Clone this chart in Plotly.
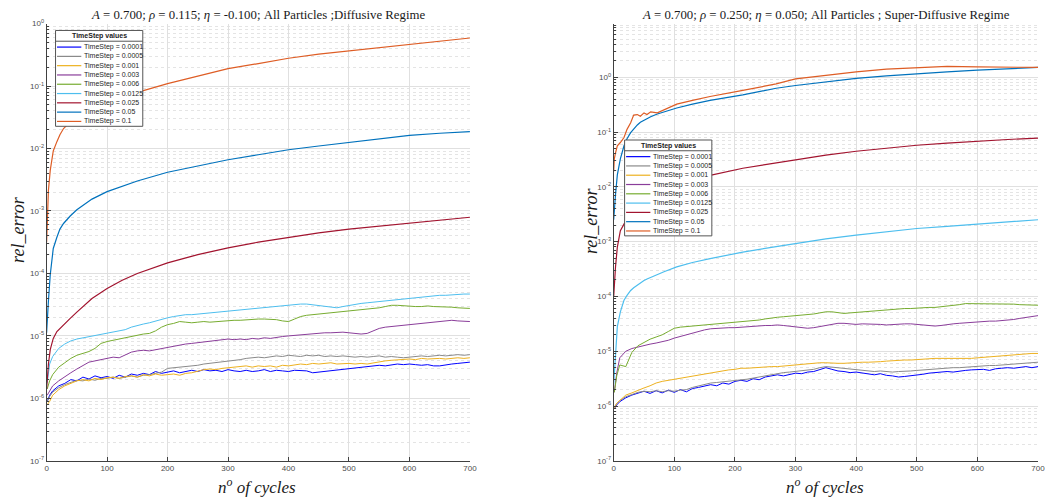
import numpy as np
import plotly.graph_objects as go

W, H = 1046, 503

# ---------------------------------------------------------------- data
timesteps = ["0.0001", "0.0005", "0.001", "0.003", "0.006",
             "0.0125", "0.025", "0.05", "0.1"]
colors = ["#0000FF", "#8A8A8A", "#EDB120", "#8A3D9A", "#77AC30",
          "#4DBEEE", "#A2142F", "#0072BD", "#DE5D25"]

# sampling of the noisy (small time step) runs
cycles_noisy = [1, 5] + list(range(10, 701, 10))
# sampling of the smooth (large time step) runs
cycles_smooth_left = [0, 1, 3, 6, 11, 17, 22, 28, 39, 50, 75, 100, 125, 150,
                      200, 250, 300, 350, 400, 450, 500, 550, 600, 650, 700]
cycles_smooth_right = [0, 1, 3, 6, 11, 17, 22, 28, 33, 39, 44, 50, 55, 61, 72,
                       83, 104, 130, 159, 213, 268, 300, 350, 400, 450, 500,
                       550, 600, 650, 700]

# log10(rel_error) -- Diffusive regime (A=0.700, rho=0.115, eta=-0.100)
left_ts_0001 = [
    -6.05, -5.95, -5.88, -5.80, -5.76, -5.70, -5.72, -5.66, -5.69, -5.64,
    -5.67, -5.65, -5.68, -5.63, -5.66, -5.61, -5.63, -5.60, -5.62, -5.57,
    -5.60, -5.58, -5.56, -5.59, -5.57, -5.55, -5.57, -5.54, -5.56, -5.55,
    -5.57, -5.54, -5.56, -5.57, -5.55, -5.57, -5.56, -5.54, -5.57, -5.55,
    -5.56, -5.57, -5.55, -5.56, -5.56, -5.59, -5.58, -5.56, -5.55, -5.54,
    -5.53, -5.52, -5.52, -5.50, -5.49, -5.48, -5.47, -5.48, -5.46, -5.45,
    -5.46, -5.45, -5.46, -5.47, -5.46, -5.48, -5.48, -5.46, -5.45, -5.44,
    -5.43, -5.42]
left_ts_0005 = [
    -6.05, -5.97, -5.90, -5.83, -5.78, -5.74, -5.71, -5.72, -5.69, -5.71,
    -5.68, -5.68, -5.66, -5.68, -5.66, -5.64, -5.66, -5.63, -5.62, -5.60,
    -5.58, -5.52, -5.51, -5.50, -5.50, -5.48, -5.47, -5.45, -5.44, -5.43,
    -5.42, -5.40, -5.39, -5.38, -5.36, -5.35, -5.34, -5.35, -5.33, -5.32,
    -5.33, -5.31, -5.32, -5.33, -5.31, -5.32, -5.31, -5.33, -5.32, -5.33,
    -5.32, -5.33, -5.34, -5.33, -5.34, -5.33, -5.32, -5.34, -5.33, -5.34,
    -5.35, -5.34, -5.33, -5.32, -5.33, -5.32, -5.31, -5.32, -5.31, -5.30,
    -5.31, -5.30]
left_ts_001 = [
    -6.10, -6.05, -5.95, -5.86, -5.80, -5.76, -5.72, -5.70, -5.72, -5.68,
    -5.70, -5.67, -5.66, -5.68, -5.65, -5.64, -5.66, -5.62, -5.64, -5.61,
    -5.63, -5.62, -5.61, -5.63, -5.60, -5.59, -5.56, -5.54, -5.53, -5.54,
    -5.52, -5.51, -5.50, -5.49, -5.48, -5.50, -5.48, -5.49, -5.48, -5.50,
    -5.47, -5.48, -5.46, -5.45, -5.46, -5.44, -5.45, -5.44, -5.43, -5.45,
    -5.44, -5.44, -5.45, -5.44, -5.45, -5.43, -5.42, -5.40, -5.39, -5.38,
    -5.37, -5.37, -5.38, -5.36, -5.37, -5.36, -5.36, -5.37, -5.36, -5.35,
    -5.36, -5.35]
left_ts_003 = [
    -5.95, -5.88, -5.80, -5.72, -5.65, -5.59, -5.53, -5.47, -5.42, -5.40,
    -5.38, -5.36, -5.34, -5.35, -5.30, -5.26, -5.24, -5.23, -5.24, -5.22,
    -5.20, -5.18, -5.16, -5.15, -5.13, -5.12, -5.11, -5.10, -5.09, -5.07,
    -5.06, -5.05, -5.06, -5.05, -5.06, -5.04, -5.05, -5.03, -5.04, -5.02,
    -5.01, -5.00, -4.99, -4.98, -4.98, -4.97, -4.96, -4.95, -4.95, -4.94,
    -4.94, -4.95, -4.96, -4.97, -4.96, -4.92, -4.88, -4.86, -4.85, -4.84,
    -4.83, -4.82, -4.81, -4.80, -4.79, -4.77, -4.76, -4.76, -4.75, -4.76,
    -4.76, -4.77]
left_ts_006 = [
    -5.85, -5.72, -5.62, -5.50, -5.43, -5.36, -5.31, -5.28, -5.25, -5.20,
    -5.12, -5.09, -5.07, -5.05, -5.03, -5.00, -4.98, -4.97, -4.96, -4.92,
    -4.86, -4.82, -4.80, -4.77, -4.78, -4.79, -4.78, -4.77, -4.78, -4.77,
    -4.76, -4.76, -4.75, -4.75, -4.74, -4.74, -4.73, -4.73, -4.73, -4.74,
    -4.76, -4.77, -4.73, -4.69, -4.67, -4.66, -4.65, -4.64, -4.63, -4.62,
    -4.61, -4.61, -4.60, -4.59, -4.58, -4.57, -4.55, -4.53, -4.51, -4.51,
    -4.52, -4.53, -4.53, -4.53, -4.52, -4.53, -4.53, -4.54, -4.54, -4.55,
    -4.55, -4.56]
left_ts_0125 = [
    -5.75, -5.45, -5.33, -5.20, -5.13, -5.08, -5.05, -5.03, -5.01, -4.99,
    -4.97, -4.96, -4.94, -4.92, -4.90, -4.86, -4.83, -4.81, -4.79, -4.76,
    -4.73, -4.71, -4.69, -4.67, -4.66, -4.66, -4.65, -4.64, -4.63, -4.62,
    -4.62, -4.61, -4.60, -4.58, -4.57, -4.56, -4.56, -4.54, -4.53, -4.52,
    -4.51, -4.50, -4.49, -4.49, -4.49, -4.50, -4.52, -4.53, -4.54, -4.55,
    -4.53, -4.51, -4.49, -4.48, -4.47, -4.46, -4.45, -4.44, -4.42, -4.41,
    -4.40, -4.40, -4.39, -4.37, -4.36, -4.36, -4.35, -4.35, -4.34, -4.33,
    -4.33, -4.33]
left_ts_025 = [-5.85, -5.70, -5.45, -5.22, -5.04, -4.93, -4.88, -4.82, -4.72,
               -4.62, -4.40, -4.24, -4.11, -4.00, -3.83, -3.70, -3.59, -3.50,
               -3.42, -3.35, -3.29, -3.24, -3.19, -3.145, -3.10]
left_ts_05 = [-4.95, -4.70, -4.44, -4.02, -3.60, -3.42, -3.29, -3.20, -3.08,
              -2.98, -2.81, -2.69, -2.60, -2.52, -2.38, -2.28, -2.18, -2.10,
              -2.02, -1.96, -1.90, -1.84, -1.79, -1.755, -1.73]
left_ts_1 = [-3.50, -3.08, -2.67, -2.35, -2.04, -1.89, -1.78, -1.68, -1.57,
             -1.47, -1.34, -1.24, -1.16, -1.10, -0.96, -0.84, -0.72, -0.64,
             -0.555, -0.49, -0.44, -0.38, -0.33, -0.28, -0.23]

# log10(rel_error) -- Super-diffusive regime (A=0.700, rho=0.250, eta=0.050)
right_ts_0001 = [
    -6.05, -5.98, -5.92, -5.85, -5.80, -5.76, -5.73, -5.77, -5.72, -5.76,
    -5.71, -5.75, -5.70, -5.74, -5.68, -5.66, -5.63, -5.61, -5.63, -5.58,
    -5.60, -5.55, -5.53, -5.55, -5.50, -5.52, -5.47, -5.45, -5.43, -5.45,
    -5.42, -5.40, -5.41, -5.38, -5.37, -5.33, -5.30, -5.33, -5.36, -5.37,
    -5.39, -5.38, -5.40, -5.42, -5.43, -5.41, -5.44, -5.45, -5.47, -5.46,
    -5.45, -5.43, -5.42, -5.40, -5.39, -5.38, -5.37, -5.38, -5.36, -5.35,
    -5.34, -5.34, -5.33, -5.35, -5.32, -5.31, -5.30, -5.31, -5.29, -5.28,
    -5.30, -5.28]
right_ts_0005 = [
    -6.02, -5.95, -5.90, -5.83, -5.79, -5.75, -5.73, -5.74, -5.72, -5.74,
    -5.72, -5.73, -5.71, -5.70, -5.66, -5.63, -5.60, -5.58, -5.57, -5.56,
    -5.55, -5.53, -5.52, -5.51, -5.49, -5.47, -5.44, -5.42, -5.40, -5.39,
    -5.38, -5.37, -5.36, -5.34, -5.33, -5.30, -5.28, -5.29, -5.30, -5.31,
    -5.32, -5.33, -5.34, -5.35, -5.37, -5.36, -5.37, -5.38, -5.37, -5.37,
    -5.36, -5.35, -5.34, -5.33, -5.32, -5.31, -5.31, -5.30, -5.30, -5.29,
    -5.28, -5.28, -5.27, -5.26, -5.26, -5.25, -5.24, -5.24, -5.23, -5.22,
    -5.21, -5.20]
right_ts_001 = [
    -6.05, -5.95, -5.90, -5.80, -5.76, -5.71, -5.67, -5.63, -5.58, -5.55,
    -5.53, -5.52, -5.50, -5.47, -5.45, -5.43, -5.41, -5.40, -5.38, -5.36,
    -5.34, -5.33, -5.31, -5.31, -5.30, -5.29, -5.29, -5.28, -5.28, -5.27,
    -5.25, -5.24, -5.23, -5.22, -5.22, -5.21, -5.21, -5.22, -5.22, -5.22,
    -5.21, -5.21, -5.20, -5.20, -5.20, -5.19, -5.18, -5.17, -5.17, -5.16,
    -5.16, -5.15, -5.14, -5.14, -5.13, -5.13, -5.13, -5.13, -5.13, -5.14,
    -5.13, -5.12, -5.11, -5.10, -5.09, -5.08, -5.08, -5.07, -5.06, -5.05,
    -5.04, -5.04]
right_ts_003 = [
    -5.75, -5.40, -5.12, -5.00, -4.95, -4.92, -4.89, -4.87, -4.85, -4.83,
    -4.80, -4.76, -4.73, -4.69, -4.66, -4.63, -4.61, -4.59, -4.58, -4.58,
    -4.57, -4.57, -4.56, -4.56, -4.55, -4.54, -4.53, -4.53, -4.52, -4.53,
    -4.54, -4.55, -4.57, -4.58, -4.57, -4.55, -4.53, -4.51, -4.49, -4.49,
    -4.50, -4.51, -4.50, -4.50, -4.50, -4.51, -4.52, -4.51, -4.50, -4.50,
    -4.50, -4.51, -4.52, -4.53, -4.54, -4.53, -4.51, -4.50, -4.49, -4.48,
    -4.47, -4.47, -4.46, -4.45, -4.45, -4.44, -4.44, -4.42, -4.40, -4.38,
    -4.36, -4.35]
right_ts_006 = [
    -5.75, -5.45, -5.25, -5.28, -5.02, -4.90, -4.84, -4.78, -4.74, -4.70,
    -4.64, -4.58, -4.56, -4.55, -4.54, -4.53, -4.52, -4.51, -4.50, -4.50,
    -4.49, -4.48, -4.47, -4.46, -4.45, -4.43, -4.41, -4.39, -4.38, -4.37,
    -4.36, -4.35, -4.35, -4.34, -4.32, -4.30, -4.28, -4.28, -4.30, -4.31,
    -4.30, -4.29, -4.28, -4.27, -4.26, -4.25, -4.25, -4.24, -4.23, -4.22,
    -4.22, -4.21, -4.21, -4.20, -4.20, -4.19, -4.18, -4.17, -4.15, -4.13,
    -4.13, -4.13, -4.13, -4.14, -4.13, -4.13, -4.14, -4.14, -4.15, -4.15,
    -4.16, -4.16]
right_ts_0125 = [-5.60, -5.40, -5.05, -4.55, -4.28, -4.07, -3.98, -3.89, -3.84,
                 -3.79, -3.75, -3.71, -3.68, -3.65, -3.60, -3.55, -3.46, -3.38,
                 -3.31, -3.19, -3.09, -3.03, -2.95, -2.88, -2.82, -2.76, -2.72,
                 -2.68, -2.64, -2.60]
right_ts_025 = [-4.00, -3.75, -3.46, -3.10, -2.80, -2.68, -2.58, -2.50, -2.45,
                -2.40, -2.35, -2.30, -2.27, -2.23, -2.17, -2.11, -2.01, -1.90,
                -1.79, -1.66, -1.56, -1.50, -1.42, -1.35, -1.29, -1.24, -1.20,
                -1.165, -1.135, -1.11]
right_ts_05 = [-2.60, -2.40, -2.14, -1.78, -1.49, -1.25, -1.12, -1.01, -0.94,
               -0.87, -0.82, -0.78, -0.75, -0.72, -0.67, -0.63, -0.56, -0.49,
               -0.42, -0.32, -0.20, -0.15, -0.08, -0.02, 0.025, 0.065, 0.10,
               0.13, 0.155, 0.18]
right_ts_1 = [-1.72, -1.49, -1.38, -1.25, -1.19, -1.10, -0.95, -0.83, -0.69,
              -0.68, -0.71, -0.65, -0.68, -0.63, -0.65, -0.59, -0.49, -0.42,
              -0.35, -0.24, -0.12, -0.03, 0.04, 0.10, 0.15, 0.18, 0.20, 0.19,
              0.18, 0.18]

left_series = [left_ts_0001, left_ts_0005, left_ts_001, left_ts_003,
               left_ts_006, left_ts_0125, left_ts_025, left_ts_05, left_ts_1]
right_series = [right_ts_0001, right_ts_0005, right_ts_001, right_ts_003,
                right_ts_006, right_ts_0125, right_ts_025, right_ts_05,
                right_ts_1]
# which cycle sampling each run uses
left_cycles = [cycles_noisy] * 6 + [cycles_smooth_left] * 3
right_cycles = [cycles_noisy] * 5 + [cycles_smooth_right] * 4

left_title = ("<i>A</i> = 0.700; <i>ρ</i> = 0.115; <i>η</i> = -0.100; "
              "All Particles ;Diffusive Regime")
right_title = ("<i>A</i> = 0.700; <i>ρ</i> = 0.250; <i>η</i> = 0.050; "
               "All Particles ; Super-Diffusive Regime")

# ---------------------------------------------------------------- styling
SERIF = "Liberation Serif, Times New Roman, serif"
SANS = "Liberation Sans, Arial, sans-serif"
AXIS_COL = "#404040"
TICK_COL = "#4d4d4d"
GRID_COL = "#e0e0e0"
MINOR_COL = "#e4e4e4"


def fx(p):
    return p / W


def fy(p):
    return 1 - p / H


fig = go.Figure()

panels = [
    dict(xa="x", ya="y", series=left_series, cycles=left_cycles),
    dict(xa="x2", ya="y2", series=right_series, cycles=right_cycles),
]
for pan in panels:
    for i, logs in enumerate(pan["series"]):
        xs = pan["cycles"][i]
        noisy = xs is cycles_noisy
        fig.add_trace(go.Scatter(
            x=xs, y=np.power(10.0, np.array(logs)),
            mode="lines", xaxis=pan["xa"], yaxis=pan["ya"],
            line=dict(color=colors[i], width=1.0 if noisy else 1.2),
            name="TimeStep = " + timesteps[i], showlegend=False,
            hoverinfo="skip"))


def yticks(top_exp):
    vals = [10.0 ** e for e in range(-7, top_exp + 1)]
    text = ["10<sup>%d</sup>" % e for e in range(-7, top_exp + 1)]
    return vals, text


minor_vals = [m * 10.0 ** e for e in range(-7, 1) for m in range(2, 10)]


def xaxis_style(x0, x1, anchor):
    return dict(
        domain=[fx(x0), fx(x1)], anchor=anchor, range=[0, 700],
        tickvals=list(range(0, 701, 100)), showgrid=True, gridcolor=GRID_COL,
        gridwidth=1, zeroline=False, showline=True, linecolor=AXIS_COL,
        linewidth=1, ticks="inside", ticklen=4, tickcolor=AXIS_COL,
        tickfont=dict(family=SANS, size=8, color=TICK_COL))


def yaxis_style(top, anchor):
    vals, text = yticks(int(np.floor(top)))
    return dict(
        type="log", domain=[fy(465), fy(18)], anchor=anchor,
        range=[-7, top], tickvals=vals, ticktext=text,
        showgrid=True, gridcolor=GRID_COL, gridwidth=1, zeroline=False,
        showline=True, linecolor=AXIS_COL, linewidth=1, ticks="inside",
        ticklen=4, tickcolor=AXIS_COL,
        tickfont=dict(family=SANS, size=8, color=TICK_COL),
        minor=dict(tickvals=[v for v in minor_vals if np.log10(v) < top],
                   showgrid=True, gridcolor=MINOR_COL,
                   griddash="dot", gridwidth=1, ticks="inside", ticklen=2,
                   tickcolor=AXIS_COL))


annotations = []
shapes = []


def add_text(x, y, text, size, family=SERIF, color="#1a1a1a", angle=0,
             xanchor="center"):
    annotations.append(dict(
        x=fx(x), y=fy(y), xref="paper", yref="paper", text=text,
        showarrow=False, font=dict(family=family, size=size, color=color),
        textangle=angle, xanchor=xanchor, yanchor="middle"))


def add_legend(x0, y0):
    w, h = 88, 98
    shapes.append(dict(type="rect", xref="paper", yref="paper",
                       x0=fx(x0), x1=fx(x0 + w), y0=fy(y0 + h), y1=fy(y0),
                       fillcolor="white", line=dict(color="#555555", width=1),
                       layer="above"))
    shapes.append(dict(type="line", xref="paper", yref="paper",
                       x0=fx(x0), x1=fx(x0 + w), y0=fy(y0 + 11), y1=fy(y0 + 11),
                       line=dict(color="#555555", width=1), layer="above"))
    add_text(x0 + w / 2, y0 + 6, "<b>TimeStep values</b>", 7,
             family=SANS, color="#222222")
    for i, ts in enumerate(timesteps):
        yy = y0 + 17 + 9.5 * i
        shapes.append(dict(type="line", xref="paper", yref="paper",
                           x0=fx(x0 + 1.5), x1=fx(x0 + 26), y0=fy(yy), y1=fy(yy),
                           line=dict(color=colors[i], width=1.2), layer="above"))
        add_text(x0 + 27, yy, "TimeStep = " + ts, 7, family=SANS,
                 color="#262626", xanchor="left")


# titles and axis labels
add_text(258.5, 9, left_title, 12.8)
add_text(831, 9, right_title, 12.8)
add_text(16, 228, "<i>rel_error</i>", 18, angle=-90)
add_text(594, 219, "<i>rel_error</i>", 18, angle=-90)
add_text(257, 491, "<i>n<sup>o</sup> of cycles</i>", 17)
add_text(830, 491, "<i>n<sup>o</sup> of cycles</i>", 17)

add_legend(54, 25)
add_legend(628, 137)

fig.update_layout(
    width=W, height=H, autosize=False,
    margin=dict(l=0, r=0, t=0, b=0, pad=0),
    paper_bgcolor="white", plot_bgcolor="white",
    xaxis=xaxis_style(45, 472, "y"),
    yaxis=yaxis_style(0, "x"),
    xaxis2=xaxis_style(617, 1045, "y2"),
    yaxis2=yaxis_style(0.98, "x2"),
    annotations=annotations, shapes=shapes, showlegend=False,
)

fig.write_html("out.html")
